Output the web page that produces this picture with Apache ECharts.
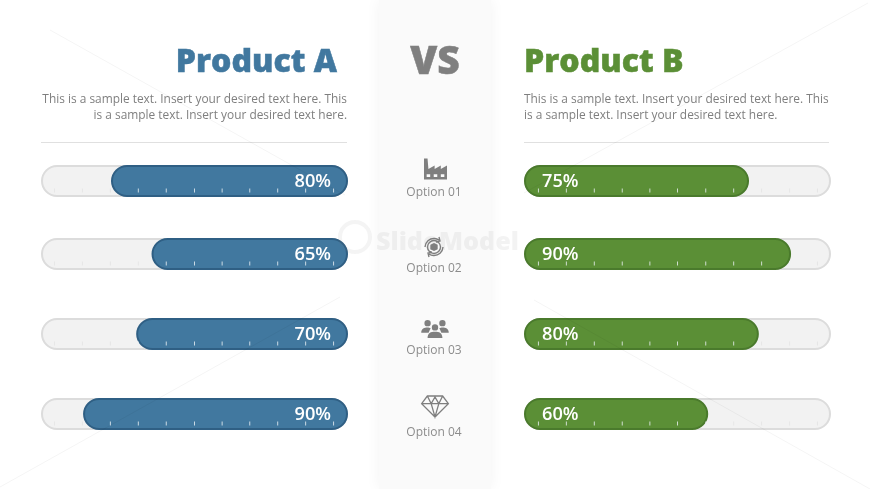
<!DOCTYPE html>
<html>
<head>
<meta charset="utf-8">
<style>
  html, body { margin: 0; padding: 0; background: #fff; }
  #chart-container { width: 870px; height: 489px; }
</style>
<script src="https://cdn.jsdelivr.net/npm/echarts@6/dist/echarts.min.js"></script>
</head>
<body>
<div id="chart-container"></div>
<script>
const options = ['Option 01', 'Option 02', 'Option 03', 'Option 04'];
const labelsA = ['80%', '65%', '70%', '90%'];
const labelsB = ['75%', '90%', '80%', '60%'];
// the drawn fills are a little shorter than their printed labels
const fillA = [77.2, 64, 69, 86.3];
const fillB = [73.3, 87, 76.5, 60];
const tickStops = [4.7, 13.8, 22.9, 32, 41, 50, 59.2, 68.3, 77.4, 86.5, 95.6];

const rowTops = [165, 238, 318, 398];
const optionY = [191, 267, 349, 431];
const FONT = '"Open Sans", sans-serif';
const BLUE = '#41789f';
const BLUE_DARK = '#2f5f84';
const GREEN = '#5b8f36';
const GREEN_DARK = '#4a7a2c';

const grid = [];
const xAxis = [];
const yAxis = [];
const series = [];

function addRow(left, inverse, name, fill, label, color, border) {
  const idx = grid.length;
  grid.push({ left, width: 307, top: rowTops[name], height: 32 });
  xAxis.push({ gridIndex: idx, type: 'value', min: 0, max: 100, inverse, show: false });
  yAxis.push({ gridIndex: idx, type: 'category', data: [options[name]], show: false });
  series.push({
    type: 'bar',
    xAxisIndex: idx,
    yAxisIndex: idx,
    barWidth: 32,
    barGap: '-100%',
    silent: true,
    data: [100],
    itemStyle: { color: '#f2f2f2', borderColor: '#dcdcdc', borderWidth: 2, borderRadius: 16 },
    z: 2
  });
  series.push({
    type: 'bar',
    xAxisIndex: idx,
    yAxisIndex: idx,
    barWidth: 32,
    barGap: '-100%',
    silent: true,
    data: [fill],
    itemStyle: { color, borderColor: border, borderWidth: 2, borderRadius: 16 },
    label: {
      show: true,
      position: inverse ? 'insideRight' : 'insideLeft',
      distance: inverse ? 17 : 18,
      offset: [0, 1],
      formatter: label,
      color: '#fff',
      fontFamily: FONT,
      fontSize: 18.2,
      fontWeight: 600
    },
    z: 3
  });
  series.push({
    type: 'scatter',
    xAxisIndex: idx,
    yAxisIndex: idx,
    silent: true,
    symbol: 'rect',
    symbolSize: [1, 4],
    symbolOffset: [0, 9.5],
    data: tickStops.map((t) => ({
      value: [t, options[name]],
      itemStyle: { color: t < fill ? '#eef3f6' : '#e4e4e4' }
    })),
    z: 4
  });
}

options.forEach((opt, i) => {
  addRow(41, true, i, fillA[i], labelsA[i], BLUE, BLUE_DARK);
  addRow(524, false, i, fillB[i], labelsB[i], GREEN, GREEN_DARK);
});

function text(str, x, y, align, size, color, weight) {
  return {
    type: 'text',
    style: {
      text: str,
      x,
      y,
      align,
      verticalAlign: 'middle',
      fontFamily: FONT,
      fontSize: size,
      fontWeight: weight || 400,
      fill: color
    },
    z: 10
  };
}

function heading(str, x, y, align, size, color) {
  const el = text(str, x, y, align, size, color, 800);
  el.style.stroke = color;
  el.style.lineWidth = 0.5;
  return el;
}

function rule(x1, y1, x2, y2, color, z) {
  return {
    type: 'line',
    shape: { x1, y1, x2, y2 },
    style: { stroke: color, lineWidth: 1 },
    z: z || 0
  };
}

function icon(pathData, x, y, width, height, style) {
  return {
    type: 'path',
    shape: { pathData, x, y, width, height },
    style: Object.assign({ fill: '#7f7f7f' }, style)
  };
}

const circle = (cx, cy, r) =>
  `M${cx - r} ${cy}a${r} ${r} 0 1 0 ${2 * r} 0a${r} ${r} 0 1 0 ${-2 * r} 0Z`;

const factoryPath =
  'M0 24V0H4L5 12L12 8V12L19 8V12L26 8V24Z' +
  'M3 18V21H7V18Z M11 18V21H15V18Z M19 18V21H23V18Z';
const peoplePath =
  circle(6, 3, 3) + circle(20, 3, 3) + circle(13, 7, 3) +
  'M0 12C0 8 3 7 6 7C7 7 8 7 9 8C8 9 8 10 7 12Z' +
  'M26 12C26 8 23 7 20 7C19 7 18 7 17 8C18 9 18 10 19 12Z' +
  'M6 17C6 12 9 11 13 11C17 11 20 12 20 17Z';
const boxPath = 'M10 3L16 6V13L10 16L4 13V6Z';
const cyclePath =
  'M1 10A9 9 0 0 1 15 3M19 10A9 9 0 0 1 5 17M15 0L16 4L12 5M5 20L4 16L8 15' +
  circle(10, 10, 6.5);
const diamondPath =
  'M6 0H22L28 8L14 22L0 8ZM0 8H28M6 0L10 8L14 22L18 8L22 0M10 8L14 1L18 8';

// the graphic component has no path type, icons go through a custom series
series.push({
  type: 'custom',
  coordinateSystem: 'none',
  silent: true,
  data: [0],
  z: 10,
  renderItem: () => ({
    type: 'group',
    children: [
      icon(factoryPath, 424, 158, 23, 22),
      icon(cyclePath, 424, 237, 20, 20, { fill: 'none', stroke: '#7f7f7f', lineWidth: 1.4 }),
      icon(boxPath, 430, 243, 8, 8),
      icon(peoplePath, 421, 320, 28, 18),
      icon(diamondPath, 421, 396, 28, 21, { fill: 'none', stroke: '#7f7f7f', lineWidth: 1.3 })
    ]
  })
});

const graphic = [
  rule(868, 3, 524, 193, 'rgba(0,0,0,0.045)', 5),
  rule(50, 30, 345, 195, 'rgba(0,0,0,0.045)', 5),
  rule(340, 297, 0, 487, 'rgba(0,0,0,0.045)', 5),
  rule(534, 300, 870, 489, 'rgba(0,0,0,0.045)', 5),
  {
    type: 'rect',
    shape: { x: 379, y: 0, width: 112, height: 489 },
    style: { fill: '#fafafa', shadowBlur: 14, shadowColor: 'rgba(0,0,0,0.05)' },
    z: 6
  },
  heading('Product A', 337, 63, 'right', 32, BLUE),
  heading('VS', 435, 63, 'center', 39, '#7f7f7f'),
  heading('Product B', 524, 63, 'left', 32, GREEN),
  text('This is a sample text. Insert your desired text here. This', 347, 100, 'right', 11.9, '#7f7f7f'),
  text('is a sample text. Insert your desired text here.', 347, 116, 'right', 11.9, '#7f7f7f'),
  text('This is a sample text. Insert your desired text here. This', 524, 100, 'left', 11.9, '#7f7f7f'),
  text('is a sample text. Insert your desired text here.', 524, 116, 'left', 11.9, '#7f7f7f'),
  rule(41, 142.5, 347, 142.5, '#e0e0e0'),
  rule(524, 142.5, 829, 142.5, '#e0e0e0'),
  {
    type: 'text',
    style: {
      text: 'SlideModel',
      x: 376,
      y: 243,
      verticalAlign: 'middle',
      fontFamily: FONT,
      fontSize: 25.2,
      fontWeight: 800,
      fill: 'rgba(120,120,120,0.09)'
    },
    z: 11
  },
  {
    type: 'circle',
    shape: { cx: 355, cy: 237, r: 15 },
    style: { fill: 'none', stroke: 'rgba(120,120,120,0.08)', lineWidth: 4 },
    z: 11
  }
];
options.forEach((opt, i) => {
  graphic.push(text(opt, 434, optionY[i] + 2, 'center', 12, '#8c8c8c'));
});

const chart = echarts.init(document.getElementById('chart-container'));
chart.setOption({ animation: false, grid, xAxis, yAxis, series, graphic });
</script>
</body>
</html>
